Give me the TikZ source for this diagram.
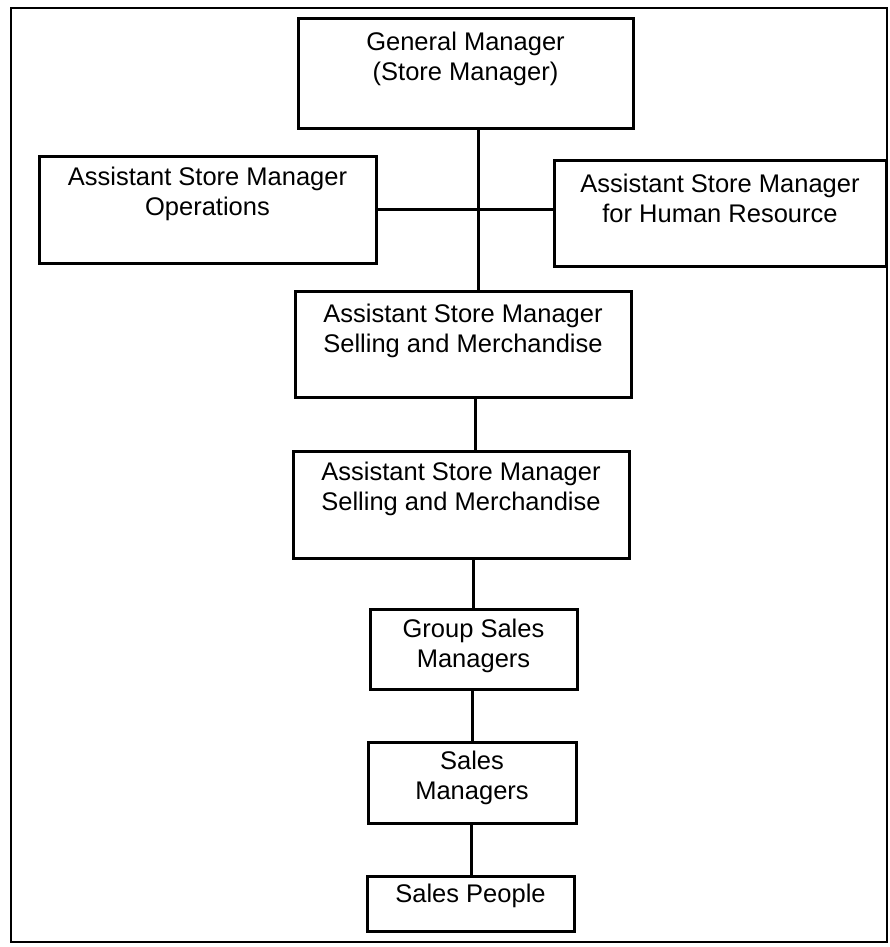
\documentclass[tikz,border=0pt]{standalone}
\usepackage{fontspec}
\setmainfont{Liberation Sans}
\begin{document}
\begin{tikzpicture}[x=1pt,y=-1pt,
  box/.style={draw=black, line width=3pt, rectangle, inner sep=0pt},
  boxtext/.style={anchor=north, inner sep=0pt, align=center,
    font=\fontsize{25.5}{30}\selectfont},
  link/.style={draw=black, line width=3pt},
  frame/.style={draw=black, line width=2.6pt}]
\useasboundingbox (0,0) rectangle (890,947);
\fill[white] (0,0) rectangle (890,947);
\draw[frame] (11,8) rectangle (887,942);

% boxes of the chart
\node[box, minimum width=335, minimum height=110] (gm)  at (465.5,74) {};
\node[box, minimum width=337, minimum height=107] (ops) at (207.5,209.5) {};
\node[box, minimum width=332, minimum height=106] (hr)  at (720,213) {};
\node[box, minimum width=336, minimum height=106] (sm1) at (463,344) {};
\node[box, minimum width=336, minimum height=107] (sm2) at (461,504.5) {};
\node[box, minimum width=207, minimum height=80]  (gsm) at (473.5,649) {};
\node[box, minimum width=208, minimum height=81]  (smg) at (472,782.5) {};
\node[box, minimum width=207, minimum height=55]  (sp)  at (470.5,903.5) {};

% titles, set near the top of each box
\node[boxtext] (gmt)  at ([yshift=-14pt]gm.north)  {General Manager\\(Store Manager)};
\node[boxtext] (opst) at ([yshift=-12pt]ops.north) {Assistant Store Manager\\Operations};
\node[boxtext] (hrt)  at ([yshift=-15pt]hr.north)  {Assistant Store Manager\\for Human Resource};
\node[boxtext] (sm1t) at ([yshift=-14pt]sm1.north) {Assistant Store Manager\\Selling and Merchandise};
\node[boxtext] (sm2t) at ([yshift=-12pt]sm2.north) {Assistant Store Manager\\Selling and Merchandise};
\node[boxtext] (gsmt) at ([yshift=-11pt]gsm.north) {Group Sales\\Managers};
\node[boxtext] (smgt) at ([yshift=-10pt]smg.north) {Sales\\Managers};
\node[boxtext] (spt)  at ([yshift=-9pt]sp.north)   {Sales People};

% reporting lines
\coordinate (xa) at (478,0);
\coordinate (xb) at (475,0);
\coordinate (xc) at (473,0);
\coordinate (xd) at (472,0);
\coordinate (xe) at (471,0);
\draw[link] (gm.south -| xa)  -- (sm1.north -| xa);
\draw[link] (ops.east) -- (ops.east -| hr.west);
\draw[link] (sm1.south -| xb) -- (sm2.north -| xb);
\draw[link] (sm2.south -| xc) -- (gsm.north -| xc);
\draw[link] (gsm.south -| xd) -- (smg.north -| xd);
\draw[link] (smg.south -| xe) -- (sp.north -| xe);
\end{tikzpicture}
\end{document}
